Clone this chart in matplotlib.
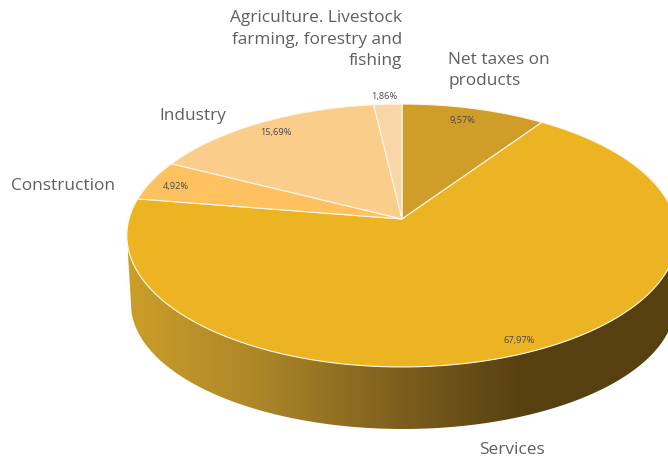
import numpy as np
import matplotlib.pyplot as plt
from matplotlib.colors import LinearSegmentedColormap
from matplotlib.patches import Polygon

# clockwise from 12 o'clock
sectors = ["Net taxes on\nproducts", "Services", "Construction", "Industry",
           "Agriculture. Livestock\nfarming, forestry and\nfishing"]
shares = [9.57, 67.97, 4.92, 15.69, 1.86]
colores = ["#CF9D28", "#ECB322", "#FDC25F", "#FBCD8B", "#F9D6A8"]

# centro y perspectiva de la tapa
cx, cy = 402, 219
ancho, alto, persp = 273, 129.4, 0.1254

plt.rcParams['font.family'] = ['Open Sans', 'DejaVu Sans']
gris_texto = "#5F5F60"


def proyectar(ang):
    u = np.sin(ang)
    v = np.cos(ang)
    w = 1 + persp * v
    return cx + ancho * u / w, cy - alto * v / w


fig = plt.figure(figsize=(6.68, 4.62), dpi=100)
ax = fig.add_axes([0, 0, 1, 1])
ax.set_xlim(0, 668)
ax.set_ylim(462, 0)
ax.axis("off")

# pared lateral: del borde frontal de la tapa a la elipse inferior
t = np.linspace(np.radians(97), np.radians(263), 300)
x_sup, y_sup = proyectar(t)
t2 = np.linspace(np.pi, 0, 300)
x_inf = 403 + 272 * np.cos(t2)
y_inf = 304 + 125 * np.sin(t2)
pared = Polygon(np.column_stack([np.r_[x_sup, x_inf], np.r_[y_sup, y_inf]]),
                closed=True, facecolor="none", edgecolor="none")
ax.add_patch(pared)
degradado = LinearSegmentedColormap.from_list(
    "pared", [(0, "#CB9E28"), (0.24, "#AD8628"), (0.5, "#7D5F1F"),
              (0.74, "#56400F"), (1, "#56400F")])
img = ax.imshow(np.linspace(0, 1, 540).reshape(1, -1), cmap=degradado,
                extent=(128, 668, 462, 200), aspect="auto", zorder=1)
img.set_clip_path(pared)
ax.set_xlim(0, 668)
ax.set_ylim(462, 0)

# tapa
acumulado = np.cumsum([0] + shares) / sum(shares) * 2 * np.pi
for i in range(len(shares)):
    ang = np.linspace(acumulado[i], acumulado[i + 1], 200)
    x, y = proyectar(ang)
    ax.fill(np.r_[cx, x], np.r_[cy, y], facecolor=colores[i],
            edgecolor="#FFF8E8", linewidth=0.8, zorder=2, joinstyle="round")

# porcentajes
pos_pct = [(463, 120), (519, 341), (176, 187), (276, 133), (384, 96)]
for valor, (xp, yp) in zip(shares, pos_pct):
    ax.text(xp, yp, f"{valor:.2f}".replace(".", ",") + "%", fontsize=6.7,
            color="#4A4A4A", ha="center", va="center", zorder=3)

# nombres de los sectores
ax.text(448, 70.5, sectors[0], fontsize=12.4, color=gris_texto, ha="left",
        va="center", linespacing=1.45)
ax.text(512, 450, sectors[1], fontsize=12.4, color=gris_texto, ha="center",
        va="center")
ax.text(115, 186.5, sectors[2], fontsize=12.4, color=gris_texto, ha="right",
        va="center")
ax.text(193, 116.5, sectors[3], fontsize=12.4, color=gris_texto, ha="center",
        va="center")
ax.text(402, 39.5, sectors[4], fontsize=12.4, color=gris_texto, ha="right",
        va="center", linespacing=1.45)

fig.savefig("out.png", dpi=100)
